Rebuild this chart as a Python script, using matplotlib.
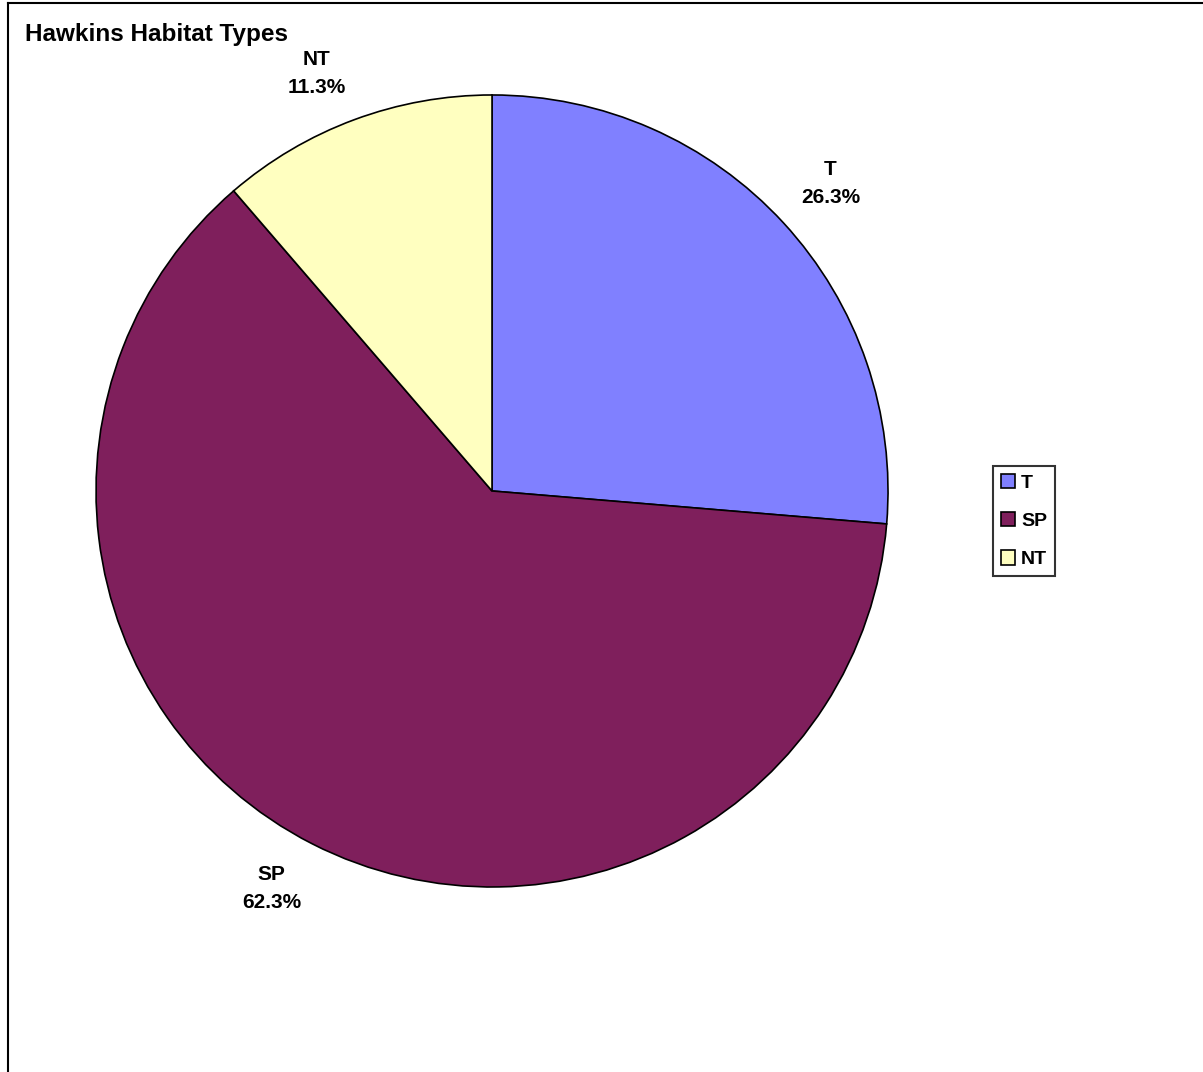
import matplotlib
matplotlib.use("Agg")
import matplotlib.pyplot as plt
from matplotlib.lines import Line2D
from matplotlib.patches import Patch
import numpy as np

# habitat shares (percent), clockwise from 12 o'clock
habitats = ["T", "SP", "NT"]
shares = [26.3, 62.3, 11.3]
colors = ["#8080FF", "#7F1F5C", "#FFFFC0"]

plt.rcParams['font.family'] = ['Liberation Sans', 'DejaVu Sans']
plt.rcParams['font.weight'] = 'bold'

fig = plt.figure(figsize=(12.03, 10.72), dpi=100)
ax = fig.add_axes([0.0798, 0.1726, 0.6584, 0.7388])

wedges, _ = ax.pie(shares, colors=colors, startangle=90, counterclock=False,
                   radius=1.0, wedgeprops=dict(edgecolor="black", linewidth=1.2))
ax.set_xlim(-1, 1)
ax.set_ylim(-1, 1)
ax.set_aspect("equal")
ax.axis("off")

# category name + percentage; the label's nearest corner sits on the
# slice's mid-angle ray just outside the rim
gap = 1.06
for w, name, v in zip(wedges, habitats, shares):
    ang = np.deg2rad((w.theta1 + w.theta2) / 2)
    x, y = gap * np.cos(ang), gap * np.sin(ang)
    ha = "left" if x > 0 else "right"
    va = "bottom" if y > 0 else "top"
    ax.text(x, y, f"{name}\n{v:.1f}%", ha=ha, va=va, multialignment="center",
            fontsize=15, fontweight="bold", linespacing=1.6, clip_on=False)

fig.text(25 / 1203, 1 - 35 / 1072, "Hawkins Habitat Types", fontsize=17.5,
         fontweight="bold", ha="left", va="center")

handles = [Patch(facecolor=c, edgecolor="black", linewidth=1.2, label=h)
           for c, h in zip(colors, habitats)]
leg = fig.legend(handles=handles, loc="center left",
                 bbox_to_anchor=(993 / 1203, 1 - 521 / 1072),
                 frameon=True, fancybox=False, edgecolor="black",
                 prop=dict(size=14, weight="bold"), handlelength=0.75,
                 handleheight=0.75, handletextpad=0.3, labelspacing=1.05,
                 borderpad=0.4, borderaxespad=0)
leg.get_frame().set_linewidth(1.5)

# chart area border (left and top edges)
fig.add_artist(Line2D([8 / 1203, 8 / 1203], [0, 1 - 3 / 1072],
                      transform=fig.transFigure, color="black", linewidth=1.5))
fig.add_artist(Line2D([8 / 1203, 1], [1 - 3 / 1072, 1 - 3 / 1072],
                      transform=fig.transFigure, color="black", linewidth=1.5))

fig.savefig("out.png", dpi=100, facecolor="white")
